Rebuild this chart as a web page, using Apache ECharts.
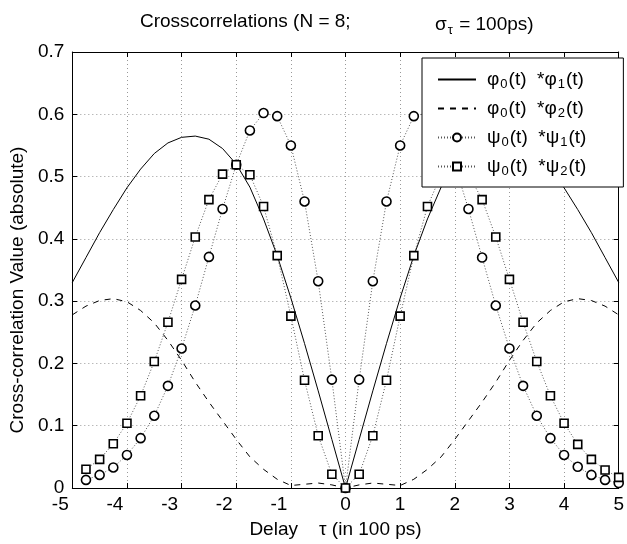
<!DOCTYPE html>
<html>
<head>
<meta charset="utf-8">
<script src="https://cdn.jsdelivr.net/npm/echarts@6/dist/echarts.min.js"></script>
<style>
  html, body { margin: 0; padding: 0; background: #fff; }
  #chart_view { width: 627px; height: 544px; }
</style>
</head>
<body>
<div id="chart_view"></div>
<script>
// delay values (in 100 ps) for the continuous curves
var xCurve = [-5, -4.75, -4.5, -4.25, -4, -3.75, -3.5, -3.25, -3, -2.75, -2.5, -2.25, -2, -1.75, -1.5, -1.25, -1, -0.75, -0.5, -0.25,
              0, 0.25, 0.5, 0.75, 1, 1.25, 1.5, 1.75, 2, 2.25, 2.5, 2.75, 3, 3.25, 3.5, 3.75, 4, 4.25, 4.5, 4.75, 5];
// phi0 * phi1 (solid)
var phi01 = [0.33, 0.37, 0.41, 0.447, 0.482, 0.512, 0.537, 0.554, 0.563, 0.565, 0.56, 0.545, 0.52, 0.483, 0.432, 0.373, 0.305, 0.232, 0.156, 0.078,
             0, 0.078, 0.156, 0.232, 0.305, 0.373, 0.432, 0.483, 0.52, 0.545, 0.56, 0.565, 0.563, 0.554, 0.537, 0.512, 0.482, 0.447, 0.41, 0.37, 0.33];
// phi0 * phi2 (dashed)
var phi02 = [0.278, 0.292, 0.301, 0.304, 0.299, 0.285, 0.265, 0.237, 0.205, 0.17, 0.138, 0.108, 0.078, 0.05, 0.03, 0.014, 0.004, 0.006, 0.008, 0.005,
             0, 0.005, 0.008, 0.006, 0.004, 0.014, 0.03, 0.05, 0.078, 0.108, 0.138, 0.17, 0.205, 0.237, 0.265, 0.285, 0.299, 0.304, 0.301, 0.292, 0.278];

// sampled delays for the marker series
var xSample = [-4.75, -4.5, -4.25, -4, -3.75, -3.5, -3.25, -3, -2.75, -2.5, -2.25, -2, -1.75, -1.5, -1.25, -1, -0.75, -0.5, -0.25,
               0, 0.25, 0.5, 0.75, 1, 1.25, 1.5, 1.75, 2, 2.25, 2.5, 2.75, 3, 3.25, 3.5, 3.75, 4, 4.25, 4.5, 4.75, 5];
// psi0 * psi1 (circles)
var psi01 = [0.013, 0.021, 0.033, 0.053, 0.08, 0.116, 0.164, 0.224, 0.293, 0.371, 0.448, 0.519, 0.574, 0.602, 0.597, 0.55, 0.46, 0.332, 0.174,
             0, 0.174, 0.332, 0.46, 0.55, 0.597, 0.602, 0.574, 0.519, 0.448, 0.37, 0.293, 0.224, 0.164, 0.116, 0.08, 0.053, 0.034, 0.021, 0.013, 0.008];
// psi0 * psi2 (squares)
var psi02 = [0.03, 0.046, 0.071, 0.104, 0.148, 0.203, 0.266, 0.335, 0.403, 0.463, 0.504, 0.519, 0.503, 0.452, 0.373, 0.276, 0.173, 0.084, 0.022,
             0, 0.022, 0.084, 0.173, 0.276, 0.373, 0.452, 0.503, 0.519, 0.504, 0.463, 0.403, 0.335, 0.266, 0.203, 0.148, 0.104, 0.07, 0.046, 0.029, 0.017];

var yTicks = ['0', '0.1', '0.2', '0.3', '0.4', '0.5', '0.6', '0.7'];
var xTicks = ['-5', '-4', '-3', '-2', '-1', '0', '1', '2', '3', '4', '5'];

function pairs(xs, ys) {
    return xs.map(function (x, i) { return [x, ys[i]]; });
}

var FONT = '"Liberation Sans", Arial, Helvetica, sans-serif';
var FS = 19;
var legendText = {
    p01: '{g|}{a|φ}{s|0}{a|(t)  *φ}{s|1}{a|(t)}',
    p02: '{g|}{a|φ}{s|0}{a|(t)  *φ}{s|2}{a|(t)}',
    s01: '{g|}{a|ψ}{s|0}{a|(t)  *ψ}{s|1}{a|(t)}',
    s02: '{g|}{a|ψ}{s|0}{a|(t)  *ψ}{s|2}{a|(t)}'
};

var myChart = echarts.init(document.getElementById('chart_view'));

var gridLine = { show: true, lineStyle: { color: '#999', type: [1, 3], width: 1 } };
var blackLine = { show: true, onZero: false, lineStyle: { color: '#000', width: 1 } };
var inTick = { show: true, inside: true, length: 5, lineStyle: { color: '#000' } };
var noMarker = { opacity: 0 };

var option = {
    backgroundColor: '#fff',
    animation: false,
    textStyle: { fontFamily: FONT },
    title: [{
        text: 'Crosscorrelations (N = 8;',
        left: 135, top: 7,
        textStyle: { fontSize: FS, fontWeight: 'normal', color: '#000', fontFamily: FONT }
    }, {
        text: '{a|σ}{s|τ}{a| = 100ps)}',
        left: 430, top: 7,
        textStyle: {
            fontWeight: 'normal',
            rich: {
                a: { fontSize: FS, fontWeight: 'normal', color: '#000', fontFamily: FONT },
                s: { fontSize: 13, fontWeight: 'normal', color: '#000', fontFamily: FONT, padding: [12, 1, 0, 1] }
            }
        }
    }],
    legend: {
        data: [
            { name: 'p01', itemStyle: noMarker },
            { name: 'p02', itemStyle: noMarker },
            { name: 's01' },
            { name: 's02' }
        ],
        orient: 'vertical',
        left: 422,
        top: 58,
        z: 10,
        backgroundColor: '#fff',
        borderColor: '#000',
        borderWidth: 1,
        borderRadius: 0,
        padding: [10, 37, 9, 15],
        itemGap: 6,
        itemWidth: 38,
        itemHeight: 10,
        formatter: function (name) { return legendText[name]; },
        textStyle: {
            rich: {
                g: { width: 6 },
                a: { fontSize: FS, color: '#000', fontFamily: FONT, lineHeight: 24 },
                s: { fontSize: 13, color: '#000', fontFamily: FONT, lineHeight: 14, padding: [10, 1, 0, 1] }
            }
        }
    },
    grid: { left: 71, right: 5, top: 52, bottom: 56 },
    xAxis: [{
        type: 'value', min: -5, max: 5, interval: 1,
        name: 'Delay    τ (in 100 ps)', nameLocation: 'middle', nameGap: 32,
        nameTextStyle: { fontSize: FS, color: '#000', fontFamily: FONT, padding: [0, 20, 0, 0] },
        axisLine: blackLine,
        axisTick: inTick,
        axisLabel: {
            fontSize: FS, color: '#000', margin: 7, fontFamily: FONT,
            formatter: function (v) {
                var t = xTicks[Math.round(v) + 5];
                return v < 0 ? '{n|' + t + '}' : t;
            },
            rich: { n: { fontSize: FS, color: '#000', fontFamily: FONT, padding: [0, 24, 0, 0] } }
        },
        splitLine: gridLine
    }, {
        type: 'value', min: -5, max: 5, interval: 1, position: 'top',
        axisLine: blackLine,
        axisTick: inTick,
        axisLabel: { show: false }, splitLine: { show: false }
    }],
    yAxis: [{
        type: 'value', min: 0, max: 0.7, interval: 0.1,
        name: 'Cross-correlation Value (absolute)', nameLocation: 'middle', nameGap: 36,
        nameTextStyle: { fontSize: FS, color: '#000', fontFamily: FONT, padding: [0, 40, 0, 0] },
        axisLine: blackLine,
        axisTick: inTick,
        axisLabel: { fontSize: FS, color: '#000', margin: 8, fontFamily: FONT,
                     formatter: function (v) { return yTicks[Math.round(v * 10)]; } },
        splitLine: gridLine
    }, {
        type: 'value', min: 0, max: 0.7, interval: 0.1, position: 'right',
        axisLine: blackLine,
        axisTick: inTick,
        axisLabel: { show: false }, splitLine: { show: false }
    }],
    series: [{
        name: 'p01', type: 'line', data: pairs(xCurve, phi01),
        symbol: 'none', lineStyle: { color: '#000', width: 1 }, itemStyle: { color: '#000' }
    }, {
        name: 'p02', type: 'line', data: pairs(xCurve, phi02),
        symbol: 'none', lineStyle: { color: '#000', width: 1, type: [6, 6] }, itemStyle: { color: '#000' }
    }, {
        name: 's01', type: 'line', data: pairs(xSample, psi01), clip: false,
        symbol: 'circle', symbolSize: 9, showAllSymbol: true,
        lineStyle: { color: '#555', width: 1, type: [1, 2] },
        itemStyle: { color: '#fff', borderColor: '#000', borderWidth: 1.6 }
    }, {
        name: 's02', type: 'line', data: pairs(xSample, psi02), clip: false,
        symbol: 'rect', symbolSize: 8, showAllSymbol: true,
        lineStyle: { color: '#555', width: 1, type: [1, 2] },
        itemStyle: { color: '#fff', borderColor: '#000', borderWidth: 1.6 }
    }]
};

myChart.setOption(option);
</script>
</body>
</html>
